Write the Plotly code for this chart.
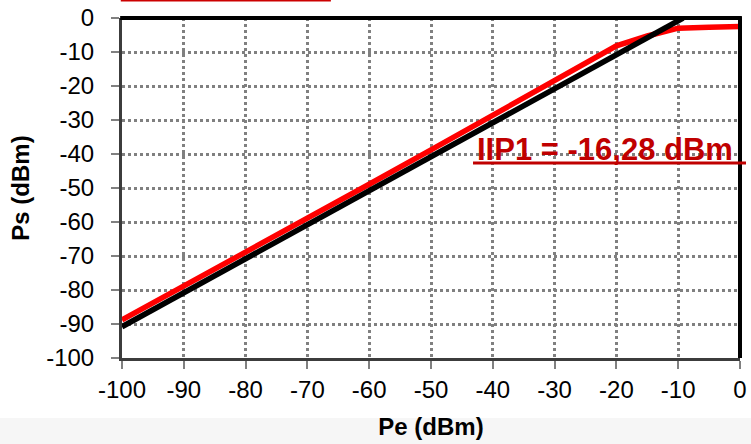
import plotly.graph_objects as go

# Data
pe_red = [-100, -90, -80, -70, -60, -50, -40, -30, -20, -15, -10, -5, 0]
ps_red = [-88.8, -78.9, -68.9, -58.9, -48.9, -38.8, -28.6, -18.4, -8.2, -5.3, -3.0, -2.7, -2.5]

pe_black = [-100, -90, -80, -70, -60, -50, -40, -30, -20, -10, -9.2]
ps_black = [-90.8, -80.8, -70.8, -60.8, -50.8, -40.8, -30.8, -20.8, -10.8, -0.8, 0.0]

tick_vals = [-100, -90, -80, -70, -60, -50, -40, -30, -20, -10, 0]
tick_text = [str(v) for v in tick_vals]

annotation_text = "IIP1 = -16,28 dBm"
x_title = "Pe (dBm)"
y_title = "Ps (dBm)"

FONT = "Liberation Sans, Arial, sans-serif"

fig = go.Figure()
fig.add_trace(go.Scatter(x=pe_red, y=ps_red, mode="lines",
                         line=dict(color="#ff0000", width=5.5), showlegend=False,
                         hoverinfo="skip"))
fig.add_trace(go.Scatter(x=pe_black, y=ps_black, mode="lines",
                         line=dict(color="#000000", width=5.5), showlegend=False,
                         hoverinfo="skip"))

axis_common = dict(
    tickmode="array", tickvals=tick_vals, ticktext=tick_text,
    ticks="outside", ticklen=8, tickwidth=2, tickcolor="#808080",
    tickfont=dict(family=FONT, size=24, color="#000000"),
    showline=True, linecolor="#3c3c3c", linewidth=3,
    showgrid=True, gridcolor="#808080", gridwidth=2.5, griddash="3px,3px",
    zeroline=False, automargin=False, fixedrange=True,
)

fig.update_layout(
    width=751, height=444,
    margin=dict(l=122, r=11, t=18, b=86),
    paper_bgcolor="#ffffff", plot_bgcolor="#ffffff",
    font=dict(family=FONT, color="#000000"),
    xaxis=dict(range=[-100, 0], **axis_common,
               title=dict(text="<b>" + x_title + "</b>",
                          font=dict(family=FONT, size=24, color="#000000"),
                          standoff=17)),
    yaxis=dict(range=[-100, 0], **axis_common, ticklabelstandoff=12,
               title=dict(text="<b>" + y_title + "</b>",
                          font=dict(family=FONT, size=24, color="#000000"),
                          standoff=10)),
    shapes=[
        # light grey band at the bottom
        dict(type="rect", xref="paper", yref="paper", x0=-0.25, x1=1.05,
             y0=-0.1765, y1=-0.35, fillcolor="#f6f6f6", line=dict(width=0),
             layer="below"),
        # thick black top and right frame
        dict(type="line", xref="paper", yref="paper", x0=-0.003, x1=1.003,
             y0=1.0, y1=1.0, line=dict(color="#000000", width=4), layer="above"),
        dict(type="line", xref="paper", yref="paper", x0=1.0, x1=1.0,
             y0=0.0, y1=1.004, line=dict(color="#000000", width=4), layer="above"),
        # red line at the very top (cut-off title underline)
        dict(type="line", xref="paper", yref="paper", x0=-0.002, x1=0.338,
             y0=1.0529, y1=1.0529, line=dict(color="#cc0000", width=3), layer="above"),
        # underline of the annotation
        dict(type="line", xref="paper", yref="paper", x0=0.568, x1=1.0097,
             y0=0.5735, y1=0.5735, line=dict(color="#c00000", width=3), layer="above"),
    ],
    annotations=[
        dict(text="<b>" + annotation_text + "</b>", xref="paper", yref="paper",
             x=0.782, y=0.612, xanchor="center", yanchor="middle", showarrow=False,
             font=dict(family=FONT, size=31, color="#c00000")),
    ],
)

fig.write_html("out.html", config={"displayModeBar": False},
               post_script="document.body.style.margin='0';")
